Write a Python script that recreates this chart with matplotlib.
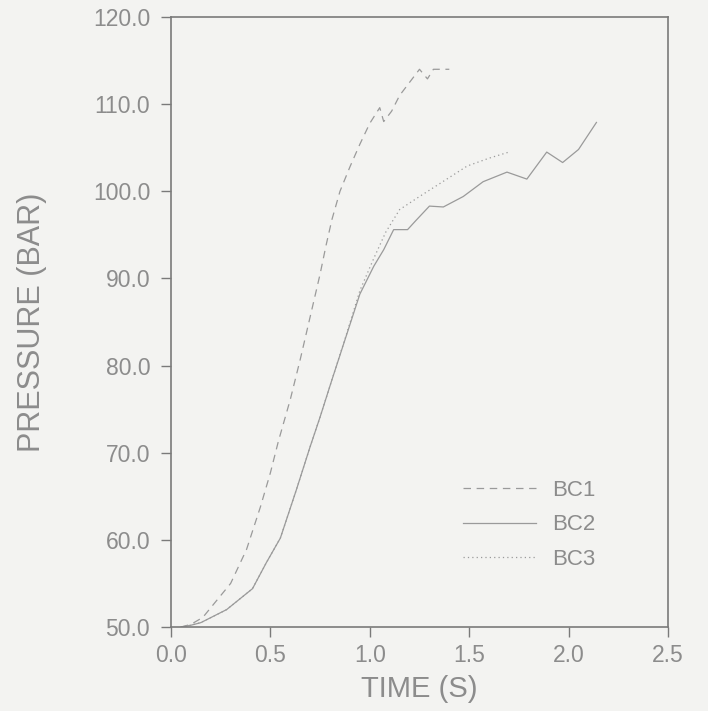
import matplotlib
matplotlib.use('Agg')
import matplotlib.pyplot as plt

# values
bc1_t = [0.05, 0.10, 0.16, 0.30, 0.38, 0.45, 0.50, 0.54, 0.60, 0.65, 0.70,
         0.75, 0.78, 0.81, 0.85, 0.90, 0.95, 1.00, 1.05, 1.07, 1.11, 1.15,
         1.20, 1.25, 1.29, 1.32, 1.40]
bc1_p = [50.0, 50.3, 51.1, 55.0, 58.9, 63.8, 67.7, 71.3, 76.1, 80.7, 85.6,
         90.5, 93.8, 96.8, 100.0, 102.8, 105.4, 107.8, 109.6, 108.0, 109.2, 111.0,
         112.5, 114.0, 112.9, 114.0, 114.0]

bc2_t = [0.05, 0.10, 0.15, 0.28, 0.41, 0.48, 0.55, 0.63, 0.70, 0.75, 0.81,
         0.88, 0.95, 1.02, 1.07, 1.12, 1.19, 1.23, 1.30, 1.37, 1.47, 1.57,
         1.69, 1.79, 1.89, 1.97, 2.05, 2.14]
bc2_p = [50.0, 50.2, 50.5, 52.0, 54.4, 57.4, 60.2, 65.7, 70.7, 74.1, 78.4,
         83.3, 88.2, 91.4, 93.3, 95.6, 95.6, 96.6, 98.3, 98.2, 99.4, 101.1,
         102.2, 101.4, 104.5, 103.3, 104.8, 107.9]

bc3_t = [0.05, 0.10, 0.15, 0.28, 0.41, 0.48, 0.55, 0.63, 0.70, 0.75, 0.81,
         0.88, 0.95, 1.02, 1.08, 1.15, 1.25, 1.36, 1.49, 1.60, 1.70]
bc3_p = [50.0, 50.2, 50.5, 52.0, 54.4, 57.4, 60.2, 65.7, 70.7, 74.1, 78.4,
         83.4, 88.6, 92.3, 95.3, 97.9, 99.4, 101.0, 102.9, 103.8, 104.5]

x_ticks = [0.0, 0.5, 1.0, 1.5, 2.0, 2.5]
y_ticks = [50.0, 60.0, 70.0, 80.0, 90.0, 100.0, 110.0, 120.0]

ink = '#8c8c8c'
line_col = '#9a9a9a'
bg = '#f3f3f1'

plt.rcParams['font.family'] = ['Liberation Sans', 'DejaVu Sans']

fig = plt.figure(figsize=(7.08, 7.11), dpi=100, facecolor=bg)
ax = fig.add_axes([171 / 708, 1 - 627 / 711, 497 / 708, 610 / 711])
ax.set_facecolor(bg)

ax.plot(bc1_t, bc1_p, color=line_col, lw=0.9, dashes=(6, 4.5), label='BC1')
ax.plot(bc2_t, bc2_p, color=line_col, lw=0.9, label='BC2')
ax.plot(bc3_t, bc3_p, color=line_col, lw=0.9, dashes=(1, 2.5), label='BC3')

ax.set_xlim(0.0, 2.5)
ax.set_ylim(50.0, 120.0)
ax.set_xticks(x_ticks)
ax.set_yticks(y_ticks)
ax.set_xticklabels([f'{v:.1f}' for v in x_ticks])
ax.set_yticklabels([f'{v:.1f}' for v in y_ticks])
ax.tick_params(direction='out', length=7, width=1, color='#7a7a7a',
               labelcolor=ink, labelsize=16.5, pad=5)
ax.tick_params(axis='y', pad=8)
for sp in ax.spines.values():
    sp.set_color('#7a7a7a')
    sp.set_linewidth(1.2)

ax.set_xlabel('TIME (S)', fontsize=21, color=ink, labelpad=6)
ax.set_ylabel('PRESSURE (BAR)', fontsize=22, color=ink, labelpad=33)

leg = ax.legend(loc='upper left', bbox_to_anchor=(463 / 708, 1 - 480 / 711),
                bbox_transform=fig.transFigure, frameon=False, fontsize=16,
                handlelength=3.3, handletextpad=0.7, labelspacing=0.6,
                borderpad=0, borderaxespad=0)
for txt in leg.get_texts():
    txt.set_color(ink)

fig.savefig('out.png', dpi=100, facecolor=bg)
